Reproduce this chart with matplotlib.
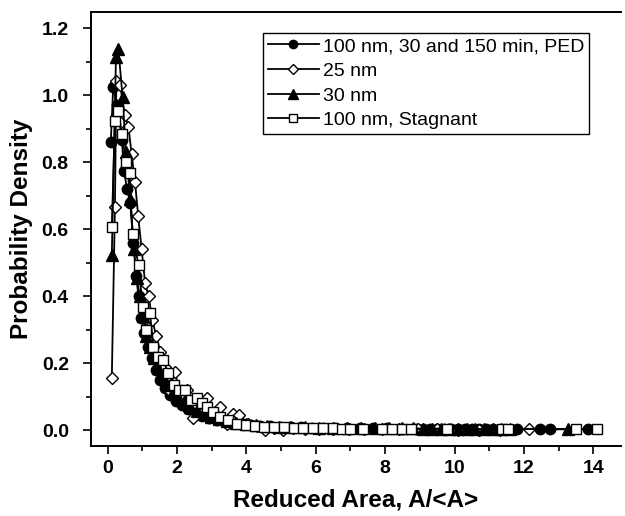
import matplotlib
matplotlib.use("Agg")
import matplotlib.pyplot as plt
from matplotlib.ticker import MultipleLocator

plt.rcParams['font.family'] = ['Liberation Sans', 'DejaVu Sans']

# 100 nm, 30 and 150 min, PED (filled circles)
ped_x = [0.09, 0.16, 0.28, 0.41, 0.47, 0.56, 0.65, 0.74, 0.82, 0.89, 0.97, 1.06, 1.16, 1.27,
         1.39, 1.52, 1.66, 1.81, 1.97, 2.14, 2.32, 2.51, 2.71, 2.92, 3.14, 3.37, 3.61, 3.86,
         4.12, 4.39, 4.67, 4.96, 5.26, 5.57, 5.89, 6.22, 6.56, 6.91, 7.27, 7.64, 8.05, 8.5,
         8.9, 9.1, 9.3, 9.5, 9.7, 9.9, 10.1, 10.3, 10.5, 10.7, 10.9, 11.1, 11.8, 12.47, 12.76, 13.85]
ped_y = [0.86, 1.024, 0.97, 0.867, 0.775, 0.72, 0.68, 0.56, 0.46, 0.40, 0.335, 0.29, 0.25, 0.215,
         0.18, 0.15, 0.125, 0.105, 0.088, 0.074, 0.062, 0.052, 0.044, 0.037, 0.031, 0.026, 0.022, 0.019,
         0.016, 0.014, 0.012, 0.011, 0.010, 0.009, 0.008, 0.008, 0.007, 0.007, 0.006, 0.006, 0.006, 0.005,
         0.005, 0.005, 0.005, 0.005, 0.004, 0.004, 0.004, 0.004, 0.004, 0.004, 0.004, 0.003, 0.003, 0.003, 0.003, 0.003]

# 25 nm (open diamonds)
nm25_x = [0.12, 0.21, 0.25, 0.36, 0.50, 0.60, 0.69, 0.79, 0.88, 0.98, 1.08, 1.18, 1.29, 1.40,
          1.52, 1.65, 1.78, 1.94, 2.10, 2.28, 2.47, 2.66, 2.86, 3.05, 3.24, 3.45, 3.62, 3.80,
          4.05, 4.30, 4.55, 4.80, 5.05, 5.35, 5.70, 6.10, 6.50, 6.95, 7.40, 7.90, 8.40, 8.95,
          9.50, 10.10, 10.70, 11.30, 12.14]
nm25_y = [0.155, 0.667, 1.043, 1.03, 0.94, 0.906, 0.825, 0.74, 0.64, 0.54, 0.44, 0.40, 0.33, 0.28,
          0.235, 0.19, 0.12, 0.175, 0.10, 0.12, 0.036, 0.08, 0.095, 0.05, 0.07, 0.02, 0.05, 0.045,
          0.02, 0.012, 0.0, 0.008, 0.0, 0.006, 0.005, 0.003, 0.004, 0.003, 0.003, 0.003, 0.003, 0.003,
          0.003, 0.002, 0.002, 0.002, 0.003]

# 30 nm (filled triangles)
nm30_x = [0.12, 0.24, 0.31, 0.43, 0.53, 0.65, 0.76, 0.84, 0.93, 1.02, 1.12, 1.22, 1.33, 1.45,
          1.58, 1.72, 1.87, 2.03, 2.20, 2.38, 2.57, 2.77, 2.98, 3.20, 3.45, 3.70, 3.98, 4.28,
          4.60, 4.95, 5.30, 5.70, 6.10, 6.50, 6.90, 7.30, 7.70, 8.10, 8.50, 8.80, 9.10, 9.35,
          9.60, 9.85, 10.10, 10.35, 10.60, 10.85, 11.10, 11.35, 11.60, 13.27]
nm30_y = [0.523, 1.115, 1.14, 0.994, 0.83, 0.69, 0.54, 0.455, 0.40, 0.34, 0.28, 0.25, 0.215, 0.185,
          0.16, 0.135, 0.115, 0.10, 0.085, 0.07, 0.058, 0.048, 0.04, 0.033, 0.027, 0.022, 0.018, 0.015,
          0.013, 0.011, 0.010, 0.009, 0.008, 0.008, 0.007, 0.007, 0.006, 0.006, 0.006, 0.006, 0.005, 0.005,
          0.005, 0.005, 0.005, 0.005, 0.004, 0.004, 0.004, 0.004, 0.004, 0.003]

# 100 nm, Stagnant (open squares)
stag_x = [0.12, 0.21, 0.31, 0.41, 0.53, 0.63, 0.72, 0.89, 1.01, 1.11, 1.22, 1.32, 1.45, 1.60,
          1.75, 1.90, 2.06, 2.23, 2.40, 2.57, 2.72, 2.86, 3.05, 3.24, 3.48, 3.72, 3.98, 4.25,
          4.52, 4.80, 5.08, 5.36, 5.64, 5.92, 6.20, 6.50, 6.75, 6.99, 7.36, 7.90, 8.20, 8.48,
          8.76, 9.77, 11.36, 11.55, 13.50, 14.10]
stag_y = [0.608, 0.924, 0.953, 0.885, 0.80, 0.767, 0.586, 0.493, 0.369, 0.30, 0.35, 0.25, 0.22, 0.21,
          0.17, 0.135, 0.12, 0.12, 0.09, 0.096, 0.08, 0.07, 0.055, 0.04, 0.03, 0.02, 0.016, 0.013,
          0.011, 0.010, 0.009, 0.008, 0.007, 0.007, 0.006, 0.006, 0.005, 0.005, 0.005, 0.004, 0.004, 0.004,
          0.004, 0.004, 0.004, 0.004, 0.004, 0.004]

labels = ["100 nm, 30 and 150 min, PED", "25 nm", "30 nm", "100 nm, Stagnant"]

fig = plt.figure(figsize=(6.25, 5.16), dpi=100)
ax = fig.add_axes([91/625, 70/516, 530/625, 434/516])

lw = 1.3
ax.plot(ped_x, ped_y, color='black', lw=lw, marker='o', ms=7.5, mfc='black', mec='black',
        mew=1.0, label=labels[0])
ax.plot(nm25_x, nm25_y, color='black', lw=lw, marker='D', ms=6.3, mfc='white', mec='black',
        mew=1.0, label=labels[1])
ax.plot(nm30_x, nm30_y, color='black', lw=lw, marker='^', ms=9, mfc='black', mec='black',
        mew=1.0, label=labels[2])
ax.plot(stag_x, stag_y, color='black', lw=lw, marker='s', ms=7, mfc='white', mec='black',
        mew=1.0, label=labels[3])

ax.set_xlim(-0.48, 14.8)
ax.set_ylim(-0.047, 1.249)
ax.xaxis.set_major_locator(MultipleLocator(2))
ax.xaxis.set_minor_locator(MultipleLocator(1))
ax.yaxis.set_major_locator(MultipleLocator(0.2))
ax.yaxis.set_minor_locator(MultipleLocator(0.1))
ax.yaxis.set_major_formatter(plt.FuncFormatter(lambda v, p: f"{v:.1f}"))

for s in ax.spines.values():
    s.set_linewidth(1.4)
ax.spines['right'].set_visible(False)

ax.tick_params(which='major', direction='out', length=6, width=1.2, labelsize=14)
ax.tick_params(axis='x', which='major', pad=4)
ax.tick_params(axis='y', which='major', pad=10)
ax.tick_params(which='minor', direction='out', length=3.5, width=1.2)
for t in ax.get_xticklabels() + ax.get_yticklabels():
    t.set_fontweight('bold')

ax.set_xlabel("Reduced Area, A/<A>", fontsize=17.5, fontweight='bold', labelpad=8)
ax.set_ylabel("Probability Density", fontsize=17.5, fontweight='bold', labelpad=6)

leg = ax.legend(loc='upper left', bbox_to_anchor=(0.325, 0.952), borderaxespad=0,
                fontsize=14, frameon=True, fancybox=False, edgecolor='black',
                handlelength=2.6, handletextpad=0.2, labelspacing=0.36, borderpad=0.25,
                markerscale=0.8)
leg.get_frame().set_linewidth(1.0)
leg.get_frame().set_alpha(1)

fig.savefig("out.png", dpi=100)
